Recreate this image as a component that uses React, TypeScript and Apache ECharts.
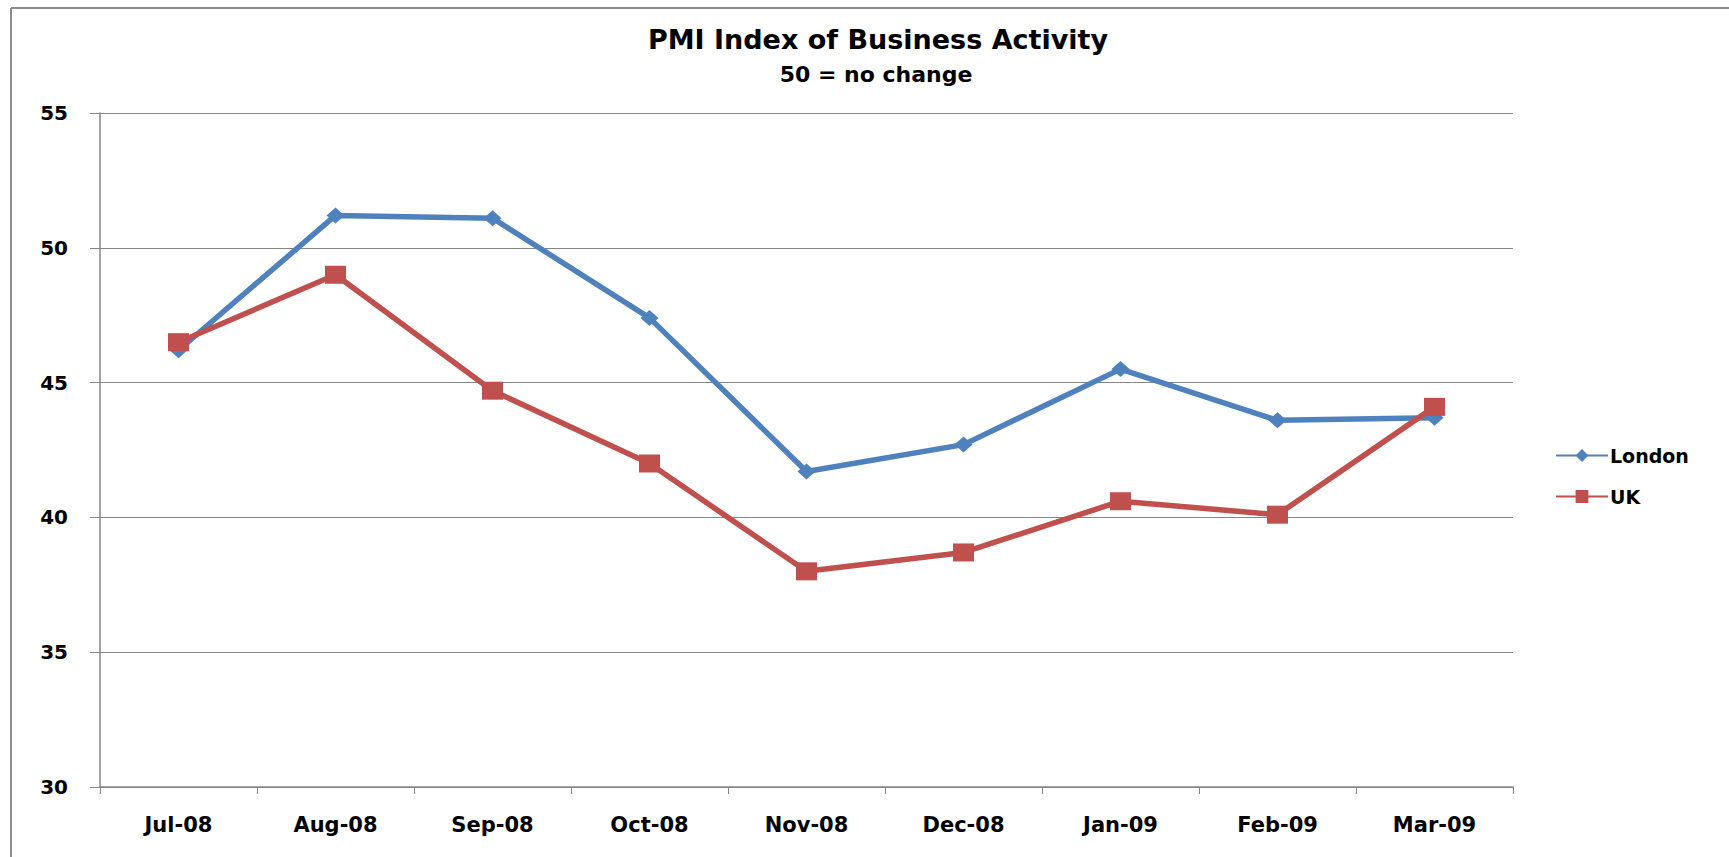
import React, { useEffect, useRef } from "react";
import * as echarts from "echarts";

const categories = ["Jul-08", "Aug-08", "Sep-08", "Oct-08", "Nov-08", "Dec-08", "Jan-09", "Feb-09", "Mar-09"];
const london = [46.2, 51.2, 51.1, 47.4, 41.7, 42.7, 45.5, 43.6, 43.7];
const uk = [46.5, 49.0, 44.7, 42.0, 38.0, 38.7, 40.6, 40.1, 44.1];
const titleText = "PMI Index of Business Activity";
const subtitleText = "50 = no change";
const yMin = 30;
const yMax = 55;
const yStep = 5;

const FONT = "'DejaVu Sans', sans-serif";

export default function App() {
  const ref = useRef<HTMLDivElement>(null);
  useEffect(() => {
    if (!ref.current) return;
    const chart = echarts.init(ref.current, null, { renderer: "svg" });
    chart.setOption({
      animation: false,
      backgroundColor: "#ffffff",
      title: [
        {
          text: titleText,
          left: 873,
          top: 21,
          textAlign: "center",
          textStyle: { fontFamily: FONT, fontWeight: "bold", fontSize: 27, color: "#000" },
        },
        {
          text: subtitleText,
          left: 871,
          top: 58,
          textAlign: "center",
          textStyle: { fontFamily: FONT, fontWeight: "bold", fontSize: 22, color: "#000" },
        },
      ],
      legend: {
        orient: "vertical",
        left: 1550,
        top: 441,
        itemWidth: 52,
        itemHeight: 16,
        itemGap: 22,
        textStyle: { fontFamily: FONT, fontWeight: "bold", fontSize: 19, color: "#000", padding: [0, 0, 0, -3] },
        data: ["London", "UK"],
      },
      graphic: [
        { type: "line", shape: { x1: 11, y1: 8, x2: 11, y2: 857 }, style: { stroke: "#8c8c8c", lineWidth: 2 } },
        { type: "line", shape: { x1: 11, y1: 8, x2: 1729, y2: 8 }, style: { stroke: "#8c8c8c", lineWidth: 2 } },
      ],
      grid: { left: 100, right: 216, top: 113, bottom: 70 },
      xAxis: {
        type: "category",
        data: categories,
        boundaryGap: true,
        axisLine: { lineStyle: { color: "#868686", width: 1.5 } },
        axisTick: { show: true, length: 7, lineStyle: { color: "#868686" } },
        axisLabel: { fontFamily: FONT, fontWeight: "bold", fontSize: 21, color: "#000", margin: 27 },
      },
      yAxis: {
        type: "value",
        min: yMin,
        max: yMax,
        interval: yStep,
        axisLine: { show: true, lineStyle: { color: "#868686", width: 1.5 } },
        axisTick: { show: true, length: 10, lineStyle: { color: "#868686" } },
        splitLine: { lineStyle: { color: "#868686", width: 1.2 } },
        axisLabel: { fontFamily: FONT, fontWeight: "bold", fontSize: 20, color: "#000", margin: 32 },
      },
      series: [
        {
          name: "London",
          type: "line",
          data: london,
          symbol: "diamond",
          symbolSize: [18, 16],
          lineStyle: { color: "#4f81bd", width: 5.5 },
          itemStyle: { color: "#4f81bd" },
        },
        {
          name: "UK",
          type: "line",
          data: uk,
          symbol: "rect",
          symbolSize: [21, 18],
          lineStyle: { color: "#c0504d", width: 5.5 },
          itemStyle: { color: "#c0504d" },
        },
      ],
    });
    return () => chart.dispose();
  }, []);
  return <div ref={ref} style={{ position: "fixed", left: 0, top: 0, width: 1729, height: 857 }} />;
}
